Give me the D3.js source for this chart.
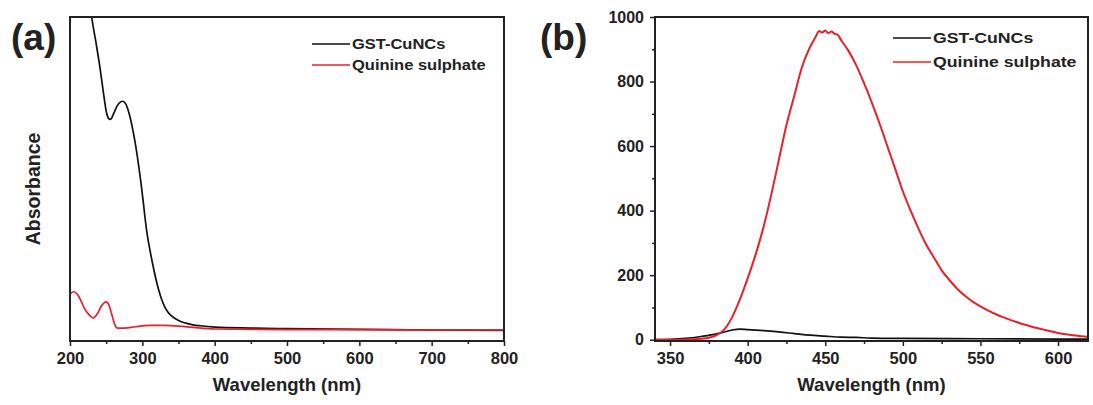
<!DOCTYPE html>
<html><head><meta charset="utf-8">
<script src="https://cdn.jsdelivr.net/npm/d3@7"></script>
<style>body{margin:0;background:#fff}text{font-family:"Liberation Sans",Arial,sans-serif;font-weight:bold;fill:#222}</style>
</head><body><svg id="c" width="1093" height="405"></svg>
<script>
// Panel (a): UV-vis absorbance
const absXTicks = [200,300,400,500,600,700,800];
const absGSTnm  = [218,224,230,236,241,246,250,253,256,260,265,270,273,277,282,287,291,295,298,301,304,307,311,315,320,325,330,335,340,350,360,370,380,400,450,500,600,700,800];
const absGSTval = [1.25,1.12,1.0,0.92,0.85,0.77,0.71,0.688,0.684,0.70,0.725,0.738,0.74,0.732,0.70,0.65,0.60,0.54,0.49,0.435,0.375,0.325,0.275,0.23,0.18,0.14,0.11,0.09,0.078,0.063,0.055,0.05,0.047,0.043,0.04,0.038,0.036,0.034,0.033];
const absQSnm   = [200,205,210,215,220,226,232,238,244,250,254,258,262,266,275,290,310,330,350,370,400,500,600,700,800];
const absQSval  = [0.145,0.152,0.145,0.125,0.10,0.082,0.071,0.085,0.11,0.121,0.11,0.08,0.05,0.04,0.04,0.044,0.048,0.048,0.046,0.042,0.037,0.035,0.035,0.034,0.034];

// Panel (b): fluorescence emission
const flXTicks = [350,400,450,500,550,600];
const flYTicks = [0,200,400,600,800,1000];
const flQSnm  = [340,350,360,370,375,380,385,390,395,400,405,410,415,420,425,430,435,440,444,446,448,450,452,454,456,458,460,465,470,475,480,485,490,495,500,505,510,515,520,525,530,535,540,545,550,555,560,565,570,575,580,585,590,595,600,605,610,615,620];
const flQSval = [0,0,1,3,6,14,32,70,125,190,262,345,445,555,665,755,845,905,940,957,952,958,950,955,948,945,930,895,850,795,735,670,600,530,460,400,345,295,255,215,185,158,136,118,103,90,79,69,60,52,45,38,32,26,21,17,14,11,9];
const flGSTnm  = [340,350,360,370,380,385,390,395,400,410,420,430,440,450,460,470,480,500,550,600,620];
const flGSTval = [0,1,4,10,18,24,30,33,31,28,24,19,14,11,8,7,5,4,3,2,2];

const series = ["GST-CuNCs","Quinine sulphate"];
const colors = ["#111111","#e8202a"];

const svg = d3.select("#c");

function frame(g, L, R, T, B){
  g.append("rect").attr("x",L).attr("y",T).attr("width",R-L).attr("height",B-T)
    .attr("fill","none").attr("stroke","#222").attr("stroke-width",2);
}

// ---------- Panel (a)
{
  const L=70,R=504,T=17,B=341;
  const x=d3.scaleLinear().domain([200,800]).range([L,R]);
  const y=d3.scaleLinear().domain([0,1]).range([B,T]);
  const g=svg.append("g");
  g.append("clipPath").attr("id","clipA").append("rect").attr("x",L).attr("y",T).attr("width",R-L).attr("height",B-T);
  const line=d3.line().x(d=>x(d[0])).y(d=>y(d[1])).curve(d3.curveMonotoneX);
  const pg=g.append("g").attr("clip-path","url(#clipA)");
  pg.append("path").datum(absGSTnm.map((v,i)=>[v,absGSTval[i]])).attr("d",line)
    .attr("fill","none").attr("stroke",colors[0]).attr("stroke-width",1.7);
  pg.append("path").datum(absQSnm.map((v,i)=>[v,absQSval[i]])).attr("d",line)
    .attr("fill","none").attr("stroke",colors[1]).attr("stroke-width",1.7);
  const xa=g.append("g").attr("transform",`translate(0,${B})`)
    .call(d3.axisBottom(x).tickValues(d3.range(250,800,100)).tickSize(3).tickFormat(""));
  const xb=g.append("g").attr("transform",`translate(0,${B})`)
    .call(d3.axisBottom(x).tickValues(absXTicks).tickSize(5).tickPadding(6).tickFormat(d3.format("d")));
  [xa,xb].forEach(a=>{a.select(".domain").remove();a.selectAll("line").attr("stroke","#222").attr("stroke-width",1.5);});
  xb.selectAll("text").style("font-size","16.5px").attr("fill","#222");
  frame(g,L,R,T,B);
  g.append("text").attr("x",(L+R)/2).attr("y",391).attr("text-anchor","middle").style("font-size","18.5px").text("Wavelength (nm)");
  g.append("text").attr("transform","translate(40,189) rotate(-90)").attr("text-anchor","middle").style("font-size","19.5px").text("Absorbance");
  g.append("text").attr("x",11).attr("y",50).style("font-size","37px").attr("fill","#111").text("(a)");
  series.forEach((s,i)=>{
    const yy=[44,65][i];
    g.append("line").attr("x1",312).attr("x2",350).attr("y1",yy).attr("y2",yy).attr("stroke",colors[i]).attr("stroke-width",1.6);
    g.append("text").attr("transform",`translate(352,${yy}) scale(1.1,1)`).attr("dy","0.35em").style("font-size","15px").text(s);
  });
}

// ---------- Panel (b)
{
  const L=655,R=1088,T=17,B=341;
  const x=d3.scaleLinear().domain([340.3,619.3]).range([L,R]);
  const y=d3.scaleLinear().domain([-4,1000]).range([B,T]);
  const g=svg.append("g");
  g.append("clipPath").attr("id","clipB").append("rect").attr("x",L).attr("y",T).attr("width",R-L).attr("height",B-T);
  const line=d3.line().x(d=>x(d[0])).y(d=>y(d[1])).curve(d3.curveMonotoneX);
  const pg=g.append("g").attr("clip-path","url(#clipB)");
  pg.append("path").datum(flGSTnm.map((v,i)=>[v,flGSTval[i]])).attr("d",line)
    .attr("fill","none").attr("stroke",colors[0]).attr("stroke-width",1.7);
  pg.append("path").datum(flQSnm.map((v,i)=>[v,flQSval[i]])).attr("d",line)
    .attr("fill","none").attr("stroke",colors[1]).attr("stroke-width",2);
  const xa=g.append("g").attr("transform",`translate(0,${B})`)
    .call(d3.axisBottom(x).tickValues(d3.range(375,620,50)).tickSize(3).tickFormat(""));
  const xb=g.append("g").attr("transform",`translate(0,${B})`)
    .call(d3.axisBottom(x).tickValues(flXTicks).tickSize(5).tickPadding(6).tickFormat(d3.format("d")));
  const ya=g.append("g").attr("transform",`translate(${L},0)`)
    .call(d3.axisLeft(y).tickValues(d3.range(100,1000,200)).tickSize(3).tickFormat(""));
  const yb=g.append("g").attr("transform",`translate(${L},0)`)
    .call(d3.axisLeft(y).tickValues(flYTicks).tickSize(5).tickPadding(6).tickFormat(d3.format("d")));
  [xa,xb,ya,yb].forEach(a=>{a.select(".domain").remove();a.selectAll("line").attr("stroke","#222").attr("stroke-width",1.5);});
  xb.selectAll("text").style("font-size","16.5px").attr("fill","#222");
  yb.selectAll("text").style("font-size","16px").attr("fill","#222");
  frame(g,L,R,T,B);
  g.append("text").attr("x",(L+R)/2).attr("y",391).attr("text-anchor","middle").style("font-size","18.5px").text("Wavelength (nm)");
  g.append("text").attr("x",540).attr("y",50).style("font-size","37px").attr("fill","#111").text("(b)");
  series.forEach((s,i)=>{
    const yy=[38,62][i];
    g.append("line").attr("x1",893).attr("x2",931).attr("y1",yy).attr("y2",yy).attr("stroke",colors[i]).attr("stroke-width",1.6);
    g.append("text").attr("transform",`translate(933,${yy}) scale(1.18,1)`).attr("dy","0.35em").style("font-size","15px").text(s);
  });
}
</script></body></html>
